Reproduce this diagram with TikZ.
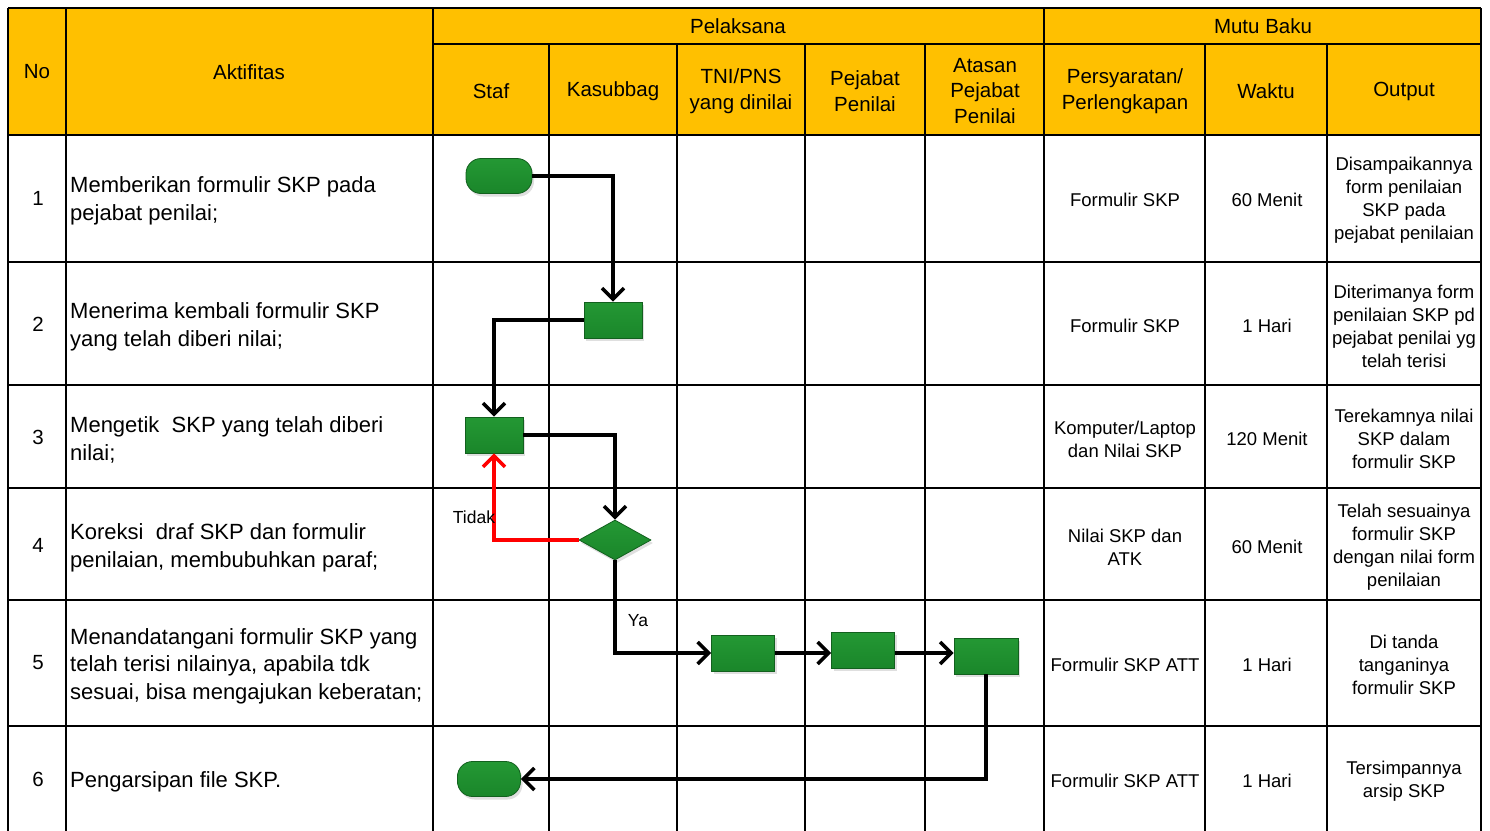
\documentclass[tikz,border=0pt]{standalone}
\usepackage{fontspec}
\setmainfont{Liberation Sans}
\usetikzlibrary{arrows.meta,shapes.geometric,shadows}

\definecolor{hdrgold}{HTML}{FFC000}
\definecolor{flowgreen}{RGB}{26,134,42}
\definecolor{flowlight}{RGB}{36,152,52}
\definecolor{flowedge}{RGB}{18,96,30}

\tikzset{
  gridline/.style={line width=2.6pt, black},
  hdrtext/.style={font=\fontsize{20.5}{25.5}\selectfont, align=center, inner sep=0pt, yshift=-2pt},
  acttext/.style={font=\fontsize{22}{27.5}\selectfont, align=left, anchor=west, inner sep=0pt, yshift=-3pt},
  stdtext/.style={font=\fontsize{18.5}{23}\selectfont, align=center, inner sep=0pt, yshift=-2pt},
  lbltext/.style={font=\fontsize{17.5}{20}\selectfont, inner sep=0pt},
  greenshape/.style={draw=flowedge, line width=0.8pt, top color=flowlight, bottom color=flowgreen,
    inner sep=0pt, drop shadow={opacity=0.25, shadow xshift=2pt, shadow yshift=-3pt}},
  procbox/.style={greenshape, rectangle, minimum width=58pt, minimum height=36pt},
  termbox/.style={greenshape, rectangle, rounded corners=15pt, minimum width=66pt, minimum height=35pt},
  decbox/.style={greenshape, diamond, minimum width=72pt, minimum height=40pt},
  flow/.style={line width=3.5pt, line join=miter,
    -{Straight Barb[length=11pt, width=22pt, line width=3.5pt]}}
}

\begin{document}
\begin{tikzpicture}[x=1pt, y=-1pt]
    \useasboundingbox (0,0) rectangle (1490,830);

    % Header background
    \fill[hdrgold] (8,8) rectangle (1481,135);

    % Grid of the table
    \draw[gridline] (8,8) -- (1481,8);
    \draw[gridline] (433,44) -- (1481,44);
    \foreach \y in {135,262,385,488,600,726} {
        \draw[gridline] (8,\y) -- (1481,\y);
    }
    \foreach \x in {8,66,433,1044,1481} {
        \draw[gridline] (\x,8) -- (\x,832);
    }
    \foreach \x in {549,677,805,925,1205,1327} {
        \draw[gridline] (\x,44) -- (\x,832);
    }

    % Header texts
    \node[hdrtext] (hNo) at (37,70) {No};
    \node[hdrtext] (hAkt) at (249,70) {Aktifitas};
    \node[hdrtext] (hPel) at (738,24) {Pelaksana};
    \node[hdrtext] (hMutu) at (1263,24) {Mutu Baku};
    \node[hdrtext] (hStaf) at (491,89) {Staf};
    \node[hdrtext] (hKasub) at (613,89) {Kasubbag};
    \node[hdrtext] (hTni) at (741,89) {TNI/PNS\\yang dinilai};
    \node[hdrtext] (hPej) at (865,89) {Pejabat\\Penilai};
    \node[hdrtext] (hAtas) at (985,89) {Atasan\\Pejabat\\Penilai};
    \node[hdrtext] (hSyarat) at (1125,89) {Persyaratan/\\Perlengkapan};
    \node[hdrtext] (hWaktu) at (1266,89) {Waktu};
    \node[hdrtext] (hOut) at (1404,89) {Output};

    % Row texts: number / centre / activity / requirement / time / output
    \foreach \n/\y/\akt/\syarat/\waktu/\out in {
        1/198/{Memberikan formulir SKP pada\\pejabat penilai;}/{Formulir SKP}/{60 Menit}/{Disampaikannya\\form penilaian\\SKP pada\\pejabat penilaian},
        2/324/{Menerima kembali formulir SKP\\yang telah diberi nilai;}/{Formulir SKP}/{1 Hari}/{Diterimanya form\\penilaian SKP pd\\pejabat penilai yg\\telah terisi},
        3/437/{Mengetik\ \ SKP yang telah diberi\\nilai;}/{Komputer/Laptop\\dan Nilai SKP}/{120 Menit}/{Terekamnya nilai\\SKP dalam\\formulir SKP},
        4/545/{Koreksi\ \ draf SKP dan formulir\\penilaian, membubuhkan paraf;}/{Nilai SKP dan\\ATK}/{60 Menit}/{Telah sesuainya\\formulir SKP\\dengan nilai form\\penilaian},
        5/663/{Menandatangani formulir SKP yang\\telah terisi nilainya, apabila tdk\\sesuai, bisa mengajukan keberatan;}/{Formulir SKP ATT}/{1 Hari}/{Di tanda\\tanganinya\\formulir SKP},
        6/779/{Pengarsipan file SKP.}/{Formulir SKP ATT}/{1 Hari}/{Tersimpannya\\arsip SKP}} {
        \node[hdrtext, yshift=2pt] (no\n) at (38,\y) {\n};
        \node[acttext] (akt\n) at (70,\y) {\akt};
        \node[stdtext] (syarat\n) at (1125,\y) {\syarat};
        \node[stdtext] (waktu\n) at (1267,\y) {\waktu};
        \node[stdtext] (out\n) at (1404,\y) {\out};
    }

    % Flow shapes
    \node[termbox] (mulai) at (499,176) {};
    \node[procbox] (terima) at (613,320) {};
    \node[procbox] (ketik) at (494,435) {};
    \node[decbox] (koreksi) at (615,540) {};
    \node[procbox, minimum width=63pt] (ttdTni) at (743,653) {};
    \node[procbox, minimum width=63pt] (ttdPej) at (863,650) {};
    \node[procbox, minimum width=64pt] (ttdAtas) at (986,656) {};
    \node[termbox, minimum width=63pt] (arsip) at (489,779) {};

    % Connectors
    \draw[flow] (mulai.east) -| (terima.north);
    \draw[flow] (terima.west) -| (ketik.north);
    \draw[flow] (ketik.east) -| (koreksi.north);
    \draw[flow, red] (koreksi.west) -| (ketik.south);
    \draw[flow] (koreksi.south) |- (ttdTni.west);
    \draw[flow] (ttdTni.east) -- (ttdTni.east -| ttdPej.west);
    \draw[flow] (ttdPej.east |- ttdTni.east) -- (ttdTni.east -| ttdAtas.west);
    \draw[flow] (ttdAtas.south) |- (arsip.east);

    % Decision labels
    \node[lbltext] (lblTidak) at (474,517) {Tidak};
    \node[lbltext] (lblYa) at (638,621) {Ya};
\end{tikzpicture}
\end{document}
